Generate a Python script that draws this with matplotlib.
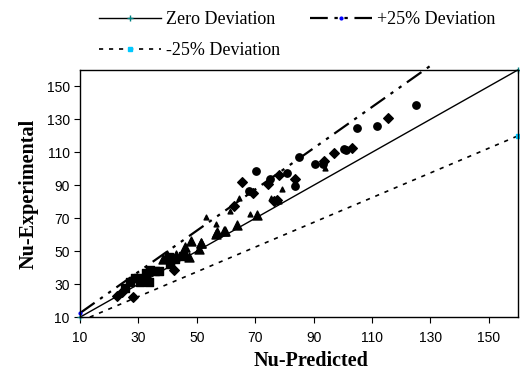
import numpy as np
import matplotlib
matplotlib.use('Agg')
import matplotlib.pyplot as plt

plt.rcParams['font.family'] = ['Liberation Sans', 'DejaVu Sans']

# data (Nu-Predicted, Nu-Experimental)
circ_x = [125, 111.7, 104.8, 100.3, 101.2, 90.6, 93.1, 84.9, 70.4, 81, 75, 83.8, 67.7]
circ_y = [139, 126.2, 125, 112.2, 111.2, 102.7, 102.7, 107, 98.9, 97.7, 93.6, 89.4, 86.4]
diam_x = [115.6, 103.1, 96.9, 93.4, 78.1, 83.5, 74.5, 65.4, 69.4, 62.6, 77.5, 76.5,
          22.7, 28, 42.1, 24.2]
diam_y = [130.8, 112.8, 109.8, 104.5, 96.5, 94, 91, 91.8, 85.6, 77.5, 81.3, 80.5,
          22.9, 22.3, 38.5, 25.3]
stri_x = [93.8, 64.5, 79.2, 75.3, 68.2, 53.1, 56.5, 61.3, 78]
stri_y = [100.7, 82.5, 88, 82.5, 72.8, 70.8, 66.8, 74.4, 80.2]
ltri_x = [70.7, 63.6, 59.7, 56.5, 51.4, 38.4, 39.7, 42.7, 47.2, 46.1, 48, 50.6, 51.4,
          56.8, 59.4]
ltri_y = [71.8, 66.2, 62.3, 60.7, 54.7, 45.5, 47.6, 47.6, 46.6, 52.6, 56, 51.6, 55,
          61.7, 62.3]
sq_x = [28.7, 29.9, 27, 30.4, 33.6, 32.5, 34.1, 37.2, 35.7, 40.7, 42.4, 45.2, 25.3, 40.4]
sq_y = [33.5, 33.5, 31.4, 31.4, 31.4, 36.8, 38.5, 38.1, 38, 42.5, 45.5, 47, 27.4, 46.6]

zero_x = [10, 160]
zero_y = [10, 160]
plus_x = [10, 130]
plus_y = [12.5, 162.5]
minus_x = [13.33, 160]
minus_y = [10, 120]

ticks = [10, 30, 50, 70, 90, 110, 130, 150]

fig = plt.figure(figsize=(5.2, 3.74), dpi=100)
ax = fig.add_axes([0.154, 0.152, 0.842, 0.661])

h0, = ax.plot(zero_x, zero_y, color='black', lw=1, marker='+', ms=4, mec='#008080',
              label='Zero Deviation', clip_on=False)
h1, = ax.plot(plus_x, plus_y, color='black', lw=1.6, dashes=(8, 3, 1.5, 3, 1.5, 3),
              marker='o', ms=2, mec='blue', mfc='blue', markevery=[0],
              label='+25% Deviation', clip_on=False)
h2, = ax.plot(minus_x, minus_y, color='black', lw=1.2, dashes=(2.5, 3.5),
              marker='s', ms=2.5, mec='#00c8ff', mfc='#00c8ff', markevery=[1],
              label='-25% Deviation', clip_on=False)

ax.scatter(circ_x, circ_y, marker='o', s=28, color='black', zorder=3)
ax.scatter(diam_x, diam_y, marker='D', s=24, color='black', zorder=3)
ax.scatter(stri_x, stri_y, marker='^', s=12, color='black', zorder=3)
ax.scatter(ltri_x, ltri_y, marker='^', s=42, color='black', zorder=3)
ax.scatter(sq_x, sq_y, marker='s', s=34, color='black', zorder=3)

ax.set_xlim(10, 160)
ax.set_ylim(10, 160)
ax.set_xticks(ticks)
ax.set_yticks(ticks)
ax.tick_params(direction='out', length=4, labelsize=10, labelfontfamily='Liberation Sans')
ax.tick_params(axis='x', pad=6)
for s in ax.spines.values():
    s.set_linewidth(1)

ax.set_xlabel('Nu-Predicted', family='Liberation Serif', fontweight='bold', fontsize=14.5)
ax.xaxis.set_label_coords(0.528, -0.135)
ax.set_ylabel('Nu-Experimental', family='Liberation Serif', fontweight='bold', fontsize=14.5,
              labelpad=6)

fig.legend([h0, h2, h1], ['Zero Deviation', '-25% Deviation', '+25% Deviation'],
           loc='upper left', bbox_to_anchor=(0.16, 1.013), ncol=2, frameon=False,
           prop={'family': 'Liberation Serif', 'size': 13}, handlelength=3.4,
           columnspacing=1.65, handletextpad=0.3, labelspacing=0.75)

fig.savefig('out.png', dpi=100)
